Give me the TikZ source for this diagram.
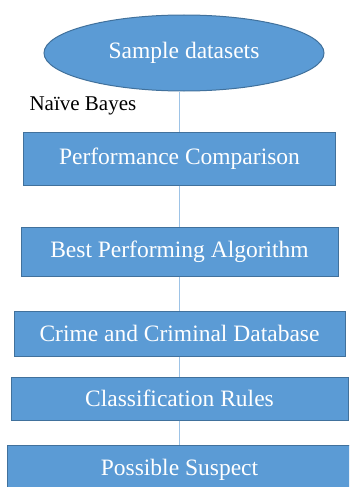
\documentclass[tikz,border=0pt]{standalone}
\usepackage{fontspec}
\setmainfont{Liberation Serif}
\usetikzlibrary{shapes.geometric}
\definecolor{boxblue}{HTML}{5B9BD5}
\definecolor{boxedge}{HTML}{41719C}
\definecolor{linkblue}{HTML}{9DC3E6}

\begin{document}
\begin{tikzpicture}[
            x = 1pt, y = -1pt, % one unit = one pixel, y down
            link/.style = {draw = linkblue, line width = 1pt} % connector style
        ]

        \tikzstyle{stage}=[
            draw = boxedge,
            fill = boxblue,
            line width = 1pt,
            text = white,
            inner sep = 0pt,
            font = \fontsize{23.5}{27}\selectfont
        ]

        \clip (0,0) rectangle (349,487);

        % start
        \node[stage, ellipse, minimum width = 280pt, minimum height = 76pt] (SD) at (184,53) {Sample datasets};
        \node[anchor = base west, font = \fontsize{21}{25}\selectfont] (NB) at (26,110) {Naïve Bayes};

        % steps
        \node[stage, minimum width = 312pt, minimum height = 53pt] (PC) at (179.5,158.5) {Performance Comparison};
        \node[stage, minimum width = 317pt, minimum height = 49pt] (BA) at (179.5,251.5) {Best Performing Algorithm};
        \node[stage, minimum width = 331pt, minimum height = 45pt] (CD) at (179.5,333.5) {Crime and Criminal Database};
        \node[stage, minimum width = 337pt, minimum height = 43pt] (CR) at (179.5,398.5) {Classification Rules};
        \node[stage, minimum width = 345pt, minimum height = 50pt] (PS) at (179.5,470) {Possible Suspect};

        % links
        \draw[link] (SD.south -| PC.north) -- (PC);
        \draw[link] (PC) -- (BA);
        \draw[link] (BA) -- (CD);
        \draw[link] (CD) -- (CR);
        \draw[link] (CR) -- (PS);

\end{tikzpicture}
\end{document}
